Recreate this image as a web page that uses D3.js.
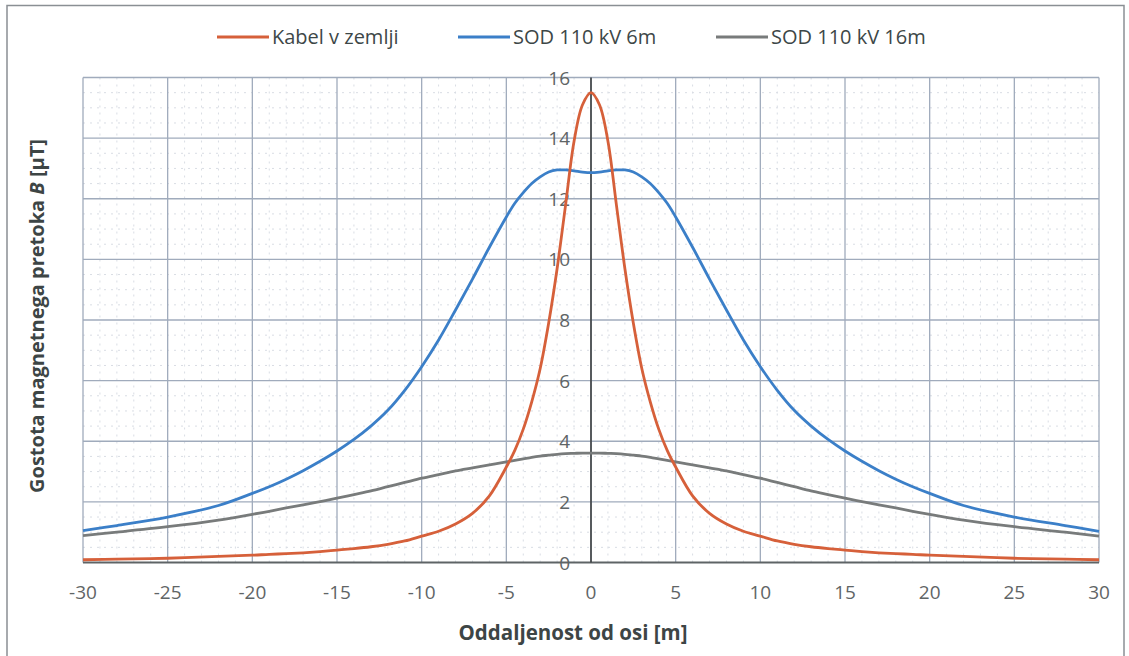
<!DOCTYPE html>
<html><head><meta charset="utf-8">
<script src="https://cdn.jsdelivr.net/npm/d3@7"></script>
<style>body{margin:0;background:#fff}svg{display:block}</style>
</head><body>
<svg id="c" width="1129" height="656"></svg>
<script>
const xValues = [-30,-28,-25,-22,-20,-19,-18,-17,-16,-15,-14,-13,-12,-11,-10,-9,-8,-7,-6,-5,-4.5,-4,-3.5,-3,-2.5,-2,-1.5,-1,-0.5,0,
  0.5,1,1.5,2,2.5,3,3.5,4,4.5,5,6,7,8,9,10,11,12,13,14,15,16,17,18,19,20,22,25,28,30];
const kabel = [0.09,0.11,0.14,0.2,0.24,0.27,0.29,0.32,0.36,0.41,0.46,0.52,0.6,0.71,0.87,1.03,1.27,1.62,2.2,3.15,3.7,4.4,5.3,6.4,7.9,9.7,11.8,13.9,15.1,15.5,
  15.1,13.9,11.8,9.7,7.9,6.4,5.3,4.4,3.7,3.15,2.2,1.62,1.27,1.03,0.87,0.71,0.6,0.52,0.46,0.41,0.36,0.32,0.29,0.27,0.24,0.2,0.14,0.11,0.09];
const sod6 = [1.05,1.22,1.5,1.88,2.28,2.5,2.75,3.03,3.34,3.68,4.06,4.5,5.02,5.68,6.46,7.34,8.33,9.35,10.4,11.4,11.85,12.2,12.5,12.72,12.88,12.95,12.95,12.92,12.88,12.86,
  12.88,12.92,12.95,12.95,12.88,12.72,12.5,12.2,11.85,11.4,10.4,9.35,8.33,7.34,6.46,5.68,5.02,4.5,4.06,3.68,3.34,3.03,2.75,2.5,2.28,1.88,1.5,1.22,1.03];
const sod16 = [0.89,1.0,1.18,1.4,1.59,1.69,1.8,1.9,2.01,2.12,2.24,2.36,2.5,2.64,2.78,2.9,3.02,3.12,3.22,3.32,3.37,3.42,3.47,3.51,3.54,3.57,3.59,3.6,3.61,3.61,
  3.61,3.6,3.59,3.57,3.54,3.51,3.47,3.42,3.37,3.32,3.22,3.12,3.02,2.9,2.78,2.64,2.5,2.36,2.24,2.12,2.01,1.9,1.8,1.69,1.59,1.4,1.18,1.0,0.87];
const seriesNames = ["Kabel v zemlji","SOD 110 kV 6m","SOD 110 kV 16m"];
const seriesColors = ["#d6603a","#3b7fc8","#787b7b"];
const xTicks = [-30,-25,-20,-15,-10,-5,0,5,10,15,20,25,30];
const yTicks = [0,2,4,6,8,10,12,14,16];
const xTitle = "Oddaljenost od osi [m]";

const svg = d3.select("#c");
const font = "'Open Sans', sans-serif";
const x = d3.scaleLinear().domain([-30,30]).range([83,1099]);
const y = d3.scaleLinear().domain([0,16]).range([562.5,77.5]);

// frame
svg.append("rect").attr("x",7).attr("y",5.5).attr("width",1117).attr("height",660)
  .attr("fill","none").attr("stroke","#8a8f94").attr("stroke-width",1.5);

// minor grid
const g = svg.append("g");
g.selectAll("line.mx").data(d3.range(-30,31,1).filter(v=>v%5!==0)).enter().append("line")
  .attr("x1",d=>x(d)).attr("x2",d=>x(d)).attr("y1",y(16)).attr("y2",y(0))
  .attr("stroke","#d9dde4").attr("stroke-width",1).attr("stroke-dasharray","2,5");
g.selectAll("line.my").data(d3.range(0,16.01,0.5).filter(v=>v%2!==0)).enter().append("line")
  .attr("x1",x(-30)).attr("x2",x(30)).attr("y1",d=>y(d)).attr("y2",d=>y(d))
  .attr("stroke","#d9dde4").attr("stroke-width",1).attr("stroke-dasharray","2,5");
// major grid
g.selectAll("line.Mx").data(xTicks).enter().append("line")
  .attr("x1",d=>x(d)).attr("x2",d=>x(d)).attr("y1",y(16)).attr("y2",y(0))
  .attr("stroke","#a0abbc").attr("stroke-width",1.3);
g.selectAll("line.My").data(yTicks.filter(v=>v>0)).enter().append("line")
  .attr("x1",x(-30)).attr("x2",x(30)).attr("y1",d=>y(d)).attr("y2",d=>y(d))
  .attr("stroke","#a0abbc").attr("stroke-width",1.3);

// axes lines
svg.append("line").attr("x1",x(-30)).attr("x2",x(30)).attr("y1",y(0)).attr("y2",y(0))
  .attr("stroke","#5e6466").attr("stroke-width",2);
svg.append("line").attr("x1",x(0)).attr("x2",x(0)).attr("y1",y(16)).attr("y2",y(0))
  .attr("stroke","#3c3f40").attr("stroke-width",1.6);

// tick labels
svg.append("g").selectAll("text").data(xTicks).enter().append("text")
  .attr("x",d=>x(d)).attr("y",599).attr("text-anchor","middle")
  .attr("font-family",font).attr("font-size",19).attr("fill","#5f6566").text(d=>d);
svg.append("g").selectAll("text").data(yTicks).enter().append("text")
  .attr("x",x(0)-21).attr("y",d=>y(d)+7).attr("text-anchor","end")
  .attr("font-family",font).attr("font-size",19).attr("fill","#5f6566").text(d=>d);

// lines
const series = [kabel, sod6, sod16];
const line = d3.line().x((d,i)=>x(xValues[i])).y(d=>y(d)).curve(d3.curveCatmullRom.alpha(0.5));
[2,1,0].forEach(k=>{
  svg.append("path").datum(series[k]).attr("d",line).attr("fill","none")
    .attr("stroke",seriesColors[k]).attr("stroke-width",2.8).attr("stroke-linejoin","round");
});

// legend
const legX = [217,458,716];
seriesNames.forEach((n,i)=>{
  svg.append("line").attr("x1",legX[i]).attr("x2",legX[i]+52).attr("y1",37).attr("y2",37)
    .attr("stroke",seriesColors[i]).attr("stroke-width",3);
  svg.append("text").attr("x",legX[i]+55).attr("y",44).attr("font-family",font)
    .attr("font-size",20).attr("fill","#3d4747").text(n);
});

// axis titles
svg.append("text").attr("x",573).attr("y",640).attr("text-anchor","middle")
  .attr("font-family",font).attr("font-size",20.5).attr("font-weight","bold").attr("fill","#3d4545").text(xTitle);
const yt = svg.append("text").attr("transform","translate(44,316) rotate(-90)").attr("text-anchor","middle")
  .attr("font-family",font).attr("font-size",20).attr("font-weight","bold").attr("fill","#3d4545");
yt.append("tspan").text("Gostota magnetnega pretoka ");
yt.append("tspan").attr("font-style","italic").text("B");
yt.append("tspan").text(" [µT]");
</script>
</body></html>
